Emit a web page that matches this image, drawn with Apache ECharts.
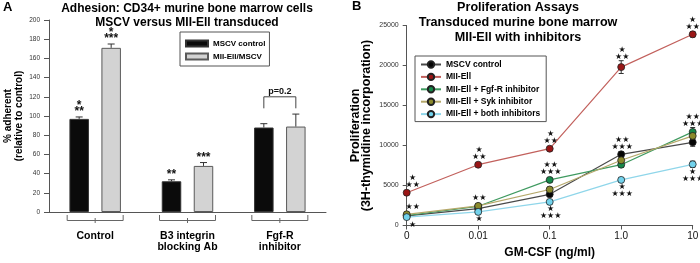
<!DOCTYPE html>
<html>
<head>
<meta charset="utf-8">
<script src="https://cdn.jsdelivr.net/npm/echarts@6/dist/echarts.min.js"></script>
<style>
html, body { margin: 0; padding: 0; background: #fff; }
#chart { width: 700px; height: 263px; }
</style>
</head>
<body>
<div id="chart"></div>
<script>
// panel A - adhesion
var groups = ['Control', 'B3 integrin\nblocking Ab', 'Fgf-R\ninhibitor'];
var mscvAdh = [97, 32, 88];
var mscvAdhErr = [2, 1.5, 4];
var mllAdh = [171, 48, 89];
var mllAdhErr = [4, 3.5, 13];
var mscvAdhStars = ['*\n**', '**', ''];
var mllAdhStars = ['*\n***', '***', ''];
var pGroup = 2;
var pText = 'p=0.2';
var pTop = 120;   // bracket height (% adherent)
var pLeg = 108;   // bracket legs end

// panel B - proliferation
var doses = ['0', '0.01', '0.1', '1.0', '10'];
var mscvProl = [1200, 2100, 3900, 8900, 10400];
var mllProl = [4100, 7600, 9600, 19800, 23900];
var fgfProl = [1250, 2400, 5700, 7600, 11700];
var sykProl = [1400, 2450, 4500, 8150, 11200];
var bothProl = [1050, 1700, 2950, 5700, 7650];
var mscvProlErr = [150, 150, 250, 350, 500];
var mllProlErr = [200, 250, 200, 800, 350];
var fgfProlErr = [150, 150, 300, 350, 550];
var sykProlErr = [150, 150, 300, 350, 450];
var bothProlErr = [150, 150, 250, 250, 400];
var mllStars = ['★\n★★', '★\n★★', '★\n★★', '★\n★★', '★\n★★'];
var starsAbove = ['★★', '★★', '★★\n★★★', '★★\n★★★', '★★\n★★★'];
var starsBelow = ['★', '★', '★\n★★★', '★\n★★★', '★\n★★★'];

var FONT = 'Liberation Sans, Arial, sans-serif';
var chart = echarts.init(document.getElementById('chart'), null, { renderer: 'canvas' });

var lowSets = [
    { v: mscvProl, e: mscvProlErr },
    { v: fgfProl, e: fgfProlErr },
    { v: sykProl, e: sykProlErr },
    { v: bothProl, e: bothProlErr }
];
var starOffset = [6, 1, 1, 1, 0];

function starText(x, y, text, va) {
    return {
        type: 'text', x: x, y: y,
        style: {
            text: text, fill: '#111', fontFamily: 'DejaVu Sans', fontSize: 8,
            lineHeight: 7, align: 'center', verticalAlign: va
        }
    };
}

// error bars + stars for adhesion bars
function renderAdhErr(params, api) {
    var i = api.value(0);
    var c = api.coord([i, 0]);
    var kids = [];
    var bars = [
        [mscvAdh[i], mscvAdhErr[i], -16, mscvAdhStars[i]],
        [mllAdh[i], mllAdhErr[i], 16, mllAdhStars[i]]
    ];
    bars.forEach(function (b) {
        var x = c[0] + b[2];
        var yTop = api.coord([i, b[0]])[1];
        var yErr = api.coord([i, b[0] + b[1]])[1];
        kids.push({ type: 'line', shape: { x1: x, y1: yTop, x2: x, y2: yErr }, style: { stroke: '#333', lineWidth: 1 } });
        kids.push({ type: 'line', shape: { x1: x - 3.5, y1: yErr, x2: x + 3.5, y2: yErr }, style: { stroke: '#333', lineWidth: 1 } });
        if (b[3]) {
            kids.push({
                type: 'text', x: x, y: yErr - 2,
                style: {
                    text: b[3], fill: '#111', fontFamily: FONT, fontWeight: 'bold', fontSize: 12,
                    lineHeight: 6.5, align: 'center', verticalAlign: 'bottom'
                }
            });
        }
    });
    return { type: 'group', children: kids };
}

// brackets under the groups, and the p value bracket
function renderBrackets(params, api) {
    var i = api.value(0);
    var c = api.coord([i, 0]);
    var st = { stroke: '#666', lineWidth: 1, fill: null };
    var kids = [
        { type: 'polyline', shape: { points: [[c[0] - 28, c[1] + 3], [c[0] - 28, c[1] + 8.5], [c[0] + 28, c[1] + 8.5], [c[0] + 28, c[1] + 3]] }, style: st },
        { type: 'line', shape: { x1: c[0], y1: c[1] + 6, x2: c[0], y2: c[1] + 11 }, style: st }
    ];
    if (i === pGroup) {
        var yT = api.coord([i, pTop])[1];
        var yL = api.coord([i, pLeg])[1];
        kids.push({ type: 'polyline', shape: { points: [[c[0] - 16, yL], [c[0] - 16, yT], [c[0] + 16, yT], [c[0] + 16, yL]] }, style: { stroke: '#444', lineWidth: 1, fill: null } });
        kids.push({
            type: 'text', x: c[0], y: yT - 1,
            style: { text: pText, fill: '#111', fontFamily: FONT, fontWeight: 'bold', fontSize: 9, align: 'center', verticalAlign: 'bottom' }
        });
    }
    return { type: 'group', children: kids };
}

// error bars for proliferation lines
function renderProlErr(params, api) {
    var i = api.value(0);
    var v = api.value(1), e = api.value(2);
    var lo = api.coord([i, v - e]);
    var hi = api.coord([i, v + e]);
    var st = { stroke: '#333', lineWidth: 1 };
    return {
        type: 'group', children: [
            { type: 'line', shape: { x1: lo[0], y1: lo[1], x2: hi[0], y2: hi[1] }, style: st },
            { type: 'line', shape: { x1: hi[0] - 2.5, y1: hi[1], x2: hi[0] + 2.5, y2: hi[1] }, style: st },
            { type: 'line', shape: { x1: lo[0] - 2.5, y1: lo[1], x2: lo[0] + 2.5, y2: lo[1] }, style: st }
        ]
    };
}

// significance stars for proliferation
function renderProlStars(params, api) {
    var i = api.value(0);
    var kids = [];
    var x = api.coord([i, 0])[0] + starOffset[i];
    // MII-Ell
    var ym = Math.min(api.coord([i, mllProl[i] + mllProlErr[i]])[1], api.coord([i, mllProl[i]])[1] - 3.5);
    kids.push(starText(x, ym - 0.5, mllStars[i], 'bottom'));
    // top of lower cluster
    var topY = 1e9, botY;
    lowSets.forEach(function (s) {
        var a = Math.min(api.coord([i, s.v[i] + s.e[i]])[1], api.coord([i, s.v[i]])[1] - 3.5);
        if (a < topY) topY = a;
    });
    botY = Math.max(api.coord([i, bothProl[i] - bothProlErr[i]])[1], api.coord([i, bothProl[i]])[1] + 3.5);
    kids.push(starText(x, topY - 0.5, starsAbove[i], 'bottom'));
    kids.push(starText(x, botY + 0.5, starsBelow[i], 'top'));
    return { type: 'group', children: kids };
}

function lineSeries(name, data, lineColor, fill) {
    return {
        name: name, type: 'line', xAxisIndex: 1, yAxisIndex: 1, data: data,
        symbol: 'circle', symbolSize: 7, z: 3,
        lineStyle: { color: lineColor, width: 1.2 },
        itemStyle: { color: fill, borderColor: '#222', borderWidth: 0.8 }
    };
}

var errData = [];
[[mscvProl, mscvProlErr], [mllProl, mllProlErr], [fgfProl, fgfProlErr], [sykProl, sykProlErr], [bothProl, bothProlErr]].forEach(function (s) {
    for (var i = 0; i < doses.length; i++) errData.push([i, s[0][i], s[1][i]]);
});

var option = {
    animation: false,
    backgroundColor: '#fff',
    textStyle: { fontFamily: FONT },
    title: [
        { text: 'A', left: 3, top: 1, padding: 0, textStyle: { fontSize: 13, fontWeight: 'bold', color: '#000' } },
        {
            text: 'Adhesion: CD34+ murine bone marrow cells\nMSCV versus MII-Ell transduced',
            left: 187, top: 1, padding: 0, textAlign: 'center',
            textStyle: { fontSize: 12, fontWeight: 'bold', color: '#000', lineHeight: 14.5 }
        },
        { text: 'B', left: 352, top: 0, padding: 0, textStyle: { fontSize: 13, fontWeight: 'bold', color: '#000' } },
        {
            text: 'Proliferation Assays\nTransduced murine bone marrow\nMII-Ell with inhibitors',
            left: 518, top: 0, padding: 0, textAlign: 'center',
            textStyle: { fontSize: 12.6, fontWeight: 'bold', color: '#000', lineHeight: 15 }
        }
    ],
    legend: [{
        data: ['MSCV control', 'MII-Ell/MSCV'],
        orient: 'vertical', left: 180, top: 32, icon: 'rect',
        padding: [7, 4, 5, 5], itemGap: 4, itemWidth: 22, itemHeight: 6, itemTextGap: 5,
        borderColor: '#555', borderWidth: 1, selectedMode: false,
        textStyle: { fontSize: 8, fontWeight: 'bold', color: '#000', lineHeight: 9 }
    }, {
        data: ['MSCV control ', 'MII-Ell', 'MII-Ell + Fgf-R inhibitor', 'MII-Ell + Syk inhibitor', 'MII-Ell + both inhibitors'],
        orient: 'vertical', left: 415, top: 56,
        padding: [4, 6, 3, 5], itemGap: 3.4, itemWidth: 20, itemHeight: 8, itemTextGap: 3,
        borderColor: '#555', borderWidth: 1, selectedMode: false,
        textStyle: { fontSize: 8.5, fontWeight: 'bold', color: '#000', lineHeight: 8 }
    }],
    grid: [
        { left: 49, right: 374, top: 20, bottom: 51, outerBoundsMode: 'none' },
        { left: 406.7, right: 7.3, top: 25.5, bottom: 37.5, outerBoundsMode: 'none' }
    ],
    xAxis: [{
        type: 'category', gridIndex: 0, data: groups,
        axisLine: { lineStyle: { color: '#555', width: 1 } },
        axisTick: { show: false },
        axisLabel: { interval: 0, margin: 19, color: '#000', fontSize: 10.5, fontWeight: 'bold', lineHeight: 11 },
        splitLine: { show: false }
    }, {
        type: 'category', gridIndex: 1, data: doses, boundaryGap: false,
        name: 'GM-CSF (ng/ml)', nameLocation: 'middle', nameGap: 21, nameMoveOverlap: false,
        nameTextStyle: { fontSize: 12, fontWeight: 'bold', color: '#000' },
        axisLine: { lineStyle: { color: '#555', width: 1 } },
        axisTick: { show: true, length: 4, lineStyle: { color: '#555' } },
        axisLabel: { interval: 0, margin: 6, color: '#111', fontSize: 10 },
        splitLine: { show: false }
    }],
    yAxis: [{
        type: 'value', gridIndex: 0, min: 0, max: 200, interval: 20,
        name: '% adherent\n(relative to control)', nameLocation: 'middle', nameGap: 24, nameMoveOverlap: false,
        nameTextStyle: { fontSize: 10, fontWeight: 'bold', color: '#000', lineHeight: 11 },
        axisLine: { show: true, lineStyle: { color: '#555', width: 1 } },
        axisTick: { show: true, length: 5, lineStyle: { color: '#555' } },
        axisLabel: { margin: 9, color: '#333', fontSize: 6.5 },
        splitLine: { show: false }
    }, {
        type: 'value', gridIndex: 1, min: 0, max: 25000, interval: 5000,
        name: 'Proliferation\n(3H-thymidine incorporation)', nameLocation: 'middle', nameGap: 34, nameMoveOverlap: false,
        nameTextStyle: { fontSize: 12.5, fontWeight: 'bold', color: '#000', lineHeight: 11.5 },
        axisLine: { show: true, lineStyle: { color: '#555', width: 1 } },
        axisTick: { show: true, length: 4, lineStyle: { color: '#555' } },
        axisLabel: { margin: 8, color: '#333', fontSize: 7, formatter: function (v) { return String(v); } },
        splitLine: { show: false }
    }],
    series: [{
        name: 'MSCV control', type: 'bar', xAxisIndex: 0, yAxisIndex: 0, data: mscvAdh,
        barWidth: 19.5, barGap: '64%',
        itemStyle: { color: '#0b0b0b', borderColor: '#333', borderWidth: 1 }
    }, {
        name: 'MII-Ell/MSCV', type: 'bar', xAxisIndex: 0, yAxisIndex: 0, data: mllAdh,
        barWidth: 19.5,
        itemStyle: { color: '#d3d3d3', borderColor: '#5a5a5a', borderWidth: 1 }
    }, {
        type: 'custom', xAxisIndex: 0, yAxisIndex: 0, renderItem: renderAdhErr, z: 4,
        data: groups.map(function (g, i) { return [i, mscvAdh[i]]; })
    }, {
        type: 'custom', xAxisIndex: 0, yAxisIndex: 0, renderItem: renderBrackets, z: 4, clip: false,
        data: groups.map(function (g, i) { return [i, 0]; })
    },
        lineSeries('MSCV control ', mscvProl, '#4a4a4a', '#050505'),
        lineSeries('MII-Ell', mllProl, '#c2605c', '#9a1616'),
        lineSeries('MII-Ell + Fgf-R inhibitor', fgfProl, '#3f9a60', '#16894a'),
        lineSeries('MII-Ell + Syk inhibitor', sykProl, '#b5a86a', '#8b8a2c'),
        lineSeries('MII-Ell + both inhibitors', bothProl, '#8fd6ea', '#72d2ec'),
    {
        type: 'custom', xAxisIndex: 1, yAxisIndex: 1, renderItem: renderProlErr, z: 2,
        data: errData
    }, {
        type: 'custom', xAxisIndex: 1, yAxisIndex: 1, renderItem: renderProlStars, z: 5, clip: false,
        data: doses.map(function (d, i) { return [i, 0]; })
    }]
};

chart.setOption(option);
</script>
</body>
</html>
